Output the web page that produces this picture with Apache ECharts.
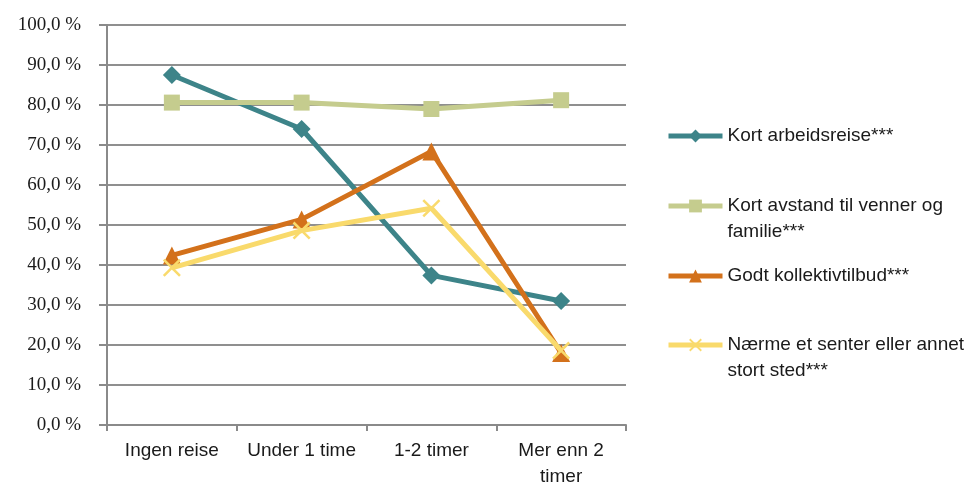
<!DOCTYPE html>
<html>
<head>
<meta charset="utf-8">
<script src="https://cdn.jsdelivr.net/npm/echarts@6/dist/echarts.min.js"></script>
<style>
  html, body { margin: 0; padding: 0; background: #fff; }
  #chart { width: 971px; height: 490px; }
</style>
</head>
<body>
<div id="chart"></div>
<script>
// Travel-time categories along the x axis
const categories = ['Ingen reise', 'Under 1 time', '1-2 timer', 'Mer enn 2\ntimer'];

// Share (%) rating each factor as important, per travel-time group
const kortArbeidsreise = [87.5, 74.0, 37.4, 31.0];
const kortAvstand = [80.6, 80.6, 79.0, 81.2];
const godtKollektiv = [42.4, 51.4, 68.4, 18.0];
const naermeSenter = [39.3, 48.6, 54.2, 18.6];

const seriesNames = [
  'Kort arbeidsreise***',
  'Kort avstand til venner og familie***',
  'Godt kollektivtilbud***',
  'Nærme et senter eller annet stort sted***'
];
const legendLabels = [
  'Kort arbeidsreise***',
  'Kort avstand til venner og\nfamilie***',
  'Godt kollektivtilbud***',
  'Nærme et senter eller annet\nstort sted***'
];

const colors = ['#3D8489', '#C5CC8E', '#D3711B', '#F9DA6C'];
const sansFont = "'Liberation Sans Narrow', 'Arial Narrow', 'Liberation Sans', sans-serif";
const crossPath = 'path://M0,1 L1,0 L10,9 L9,10 Z M9,0 L10,1 L1,10 L0,9 Z';

const chart = echarts.init(document.getElementById('chart'), null, { renderer: 'canvas' });

function lineSeries(i, data, symbol, size) {
  return {
    name: seriesNames[i],
    type: 'line',
    data: data,
    symbol: symbol,
    symbolSize: size,
    showAllSymbol: true,
    z: 2 + i,
    lineStyle: { color: colors[i], width: 5 },
    itemStyle: { color: colors[i] },
    emphasis: { disabled: true }
  };
}

// One legend block per series so each entry can sit at its own height.
// Two-line entries get an empty leading line, so the vertically centred
// text block puts its first real line level with the icon.
const legendTops = [123, 167, 263, 306];
const legends = seriesNames.map((name, i) => {
  const twoLines = legendLabels[i].indexOf('\n') >= 0;
  return {
    data: [name],
    orient: 'vertical',
    left: 666,
    top: legendTops[i],
    padding: 0,
    itemWidth: 54,
    itemHeight: 16,
    selectedMode: false,
    lineStyle: { width: 5 },
    formatter: () => (twoLines ? ' \n' : '') + legendLabels[i],
    textStyle: {
      fontFamily: sansFont, fontSize: 19, color: '#1a1a1a', lineHeight: 26
    }
  };
});

chart.setOption({
  animation: false,
  backgroundColor: '#ffffff',
  grid: { left: 107, right: 345, top: 25, bottom: 64 },
  legend: legends,
  xAxis: {
    type: 'category',
    data: categories,
    boundaryGap: true,
    axisLine: { lineStyle: { color: '#8a8a8a', width: 2 } },
    axisTick: { show: true, length: 6, lineStyle: { color: '#8a8a8a', width: 2 } },
    axisLabel: {
      fontFamily: sansFont, fontSize: 19, color: '#1a1a1a',
      margin: 13, lineHeight: 26, interval: 0
    }
  },
  yAxis: {
    type: 'value',
    min: 0,
    max: 100,
    interval: 10,
    axisLine: { show: true, lineStyle: { color: '#8a8a8a', width: 2 } },
    axisTick: { show: true, length: 8, lineStyle: { color: '#8a8a8a', width: 2 } },
    splitLine: { lineStyle: { color: '#8f8f8f', width: 2 } },
    axisLabel: {
      fontFamily: "'Liberation Serif', 'Times New Roman', serif",
      fontSize: 19, color: '#1a1a1a', margin: 26,
      formatter: v => v.toFixed(1).replace('.', ',') + ' %'
    }
  },
  series: [
    lineSeries(0, kortArbeidsreise, 'diamond', 18),
    lineSeries(1, kortAvstand, 'rect', 16),
    lineSeries(2, godtKollektiv, 'triangle', 18),
    lineSeries(3, naermeSenter, crossPath, 18)
  ]
});
</script>
</body>
</html>
